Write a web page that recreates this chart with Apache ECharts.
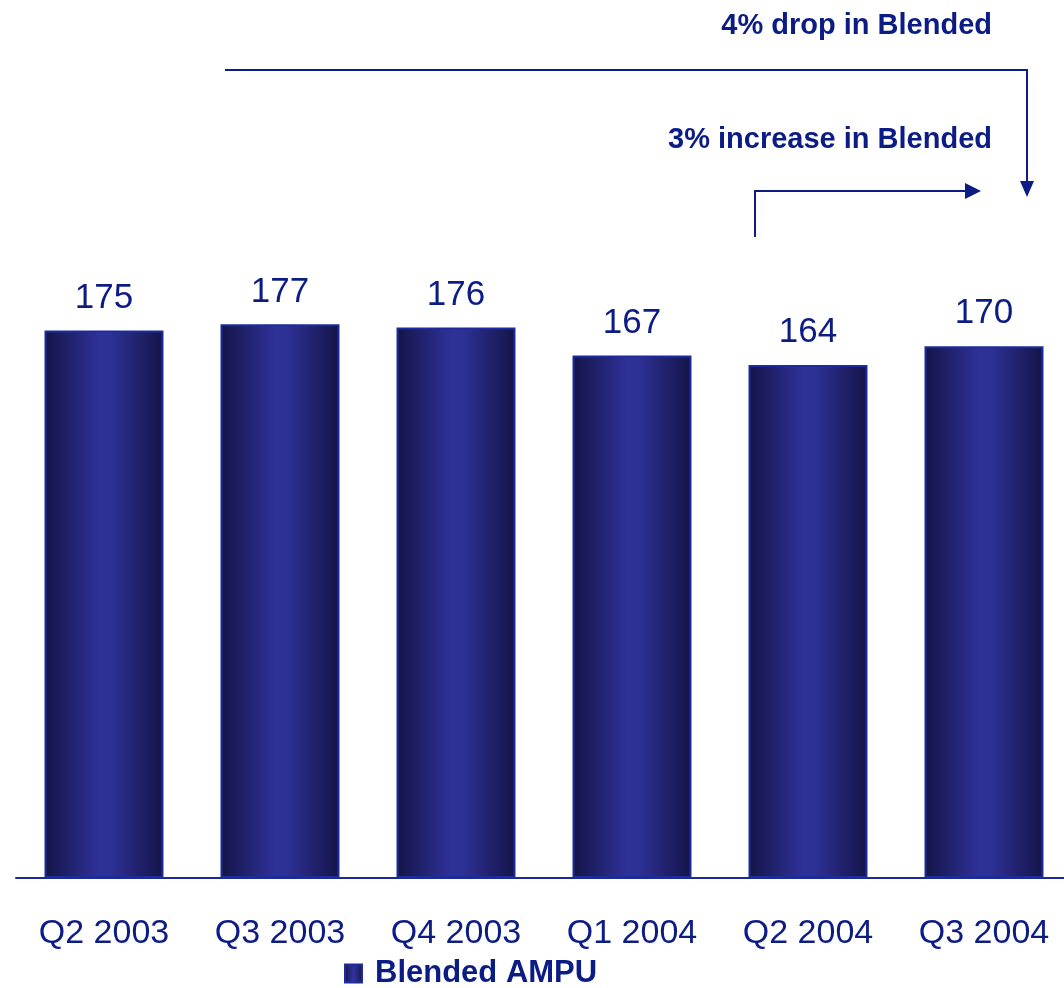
<!DOCTYPE html>
<html>
<head>
<meta charset="utf-8">
<script src="https://cdn.jsdelivr.net/npm/echarts@6/dist/echarts.min.js"></script>
<style>
  html, body { margin: 0; padding: 0; background: #fff; }
  #chart { width: 1064px; height: 988px; }
</style>
</head>
<body>
<div id="chart"></div>
<script>
// quarters and blended AMPU values
const quarters = ["Q2 2003", "Q3 2003", "Q4 2003", "Q1 2004", "Q2 2004", "Q3 2004"];
const ampu = [175, 177, 176, 167, 164, 170];
const seriesName = "Blended AMPU";
const notes = ["4% drop in Blended", "3% increase in Blended"];

const navy = "#0c1c85";
const font = "'Liberation Sans', Arial, sans-serif";

const barFill = new echarts.graphic.LinearGradient(0, 0, 1, 0, [
    { offset: 0, color: "#141448" },
    { offset: 0.45, color: "#2e3196" },
    { offset: 0.55, color: "#2e3196" },
    { offset: 1, color: "#141448" }
]);

const chart = echarts.init(document.getElementById("chart"));

const option = {
    backgroundColor: "#ffffff",
    animation: false,
    grid: { left: 16, width: 1056, top: 96, bottom: 110, outerBoundsMode: "none", containLabel: false },
    legend: {
        data: [seriesName],
        icon: "rect",
        left: 339,
        top: 953,
        itemWidth: 17,
        itemHeight: 18,
        itemGap: 10,
        textStyle: { color: navy, fontFamily: font, fontWeight: "bold", fontSize: 31, padding: [0, 0, 0, 8] }
    },
    xAxis: {
        type: "category",
        data: quarters,
        axisLine: { lineStyle: { color: "#1a2a90", width: 2 } },
        axisTick: { show: false },
        axisLabel: { color: navy, fontFamily: font, fontSize: 34, margin: 39, interval: 0 }
    },
    yAxis: {
        type: "value",
        min: 0,
        max: 250,
        show: false,
        splitLine: { show: false }
    },
    series: [
        {
            name: seriesName,
            type: "bar",
            data: ampu,
            barWidth: 119,
            itemStyle: { color: barFill, borderColor: "#1c2c9e", borderWidth: 2 },
            label: {
                show: true,
                position: "top",
                distance: 15,
                color: navy,
                fontFamily: font,
                fontSize: 35
            }
        }
    ],
    graphic: [
        {
            type: "text",
            right: 72,
            top: 11,
            style: { text: notes[0], fill: navy, font: "bold 29px " + font }
        },
        {
            type: "text",
            right: 72,
            top: 125,
            style: { text: notes[1], fill: navy, font: "bold 29px " + font }
        },
        {
            type: "polyline",
            shape: { points: [[225, 70], [1027, 70], [1027, 184]] },
            style: { stroke: navy, lineWidth: 2, fill: null }
        },
        {
            type: "polygon",
            shape: { points: [[1020, 181], [1034, 181], [1027, 197]] },
            style: { fill: navy }
        },
        {
            type: "polyline",
            shape: { points: [[755, 237], [755, 191], [968, 191]] },
            style: { stroke: navy, lineWidth: 2, fill: null }
        },
        {
            type: "polygon",
            shape: { points: [[965, 183], [981, 191], [965, 199]] },
            style: { fill: navy }
        }
    ]
};

chart.setOption(option);
</script>
</body>
</html>
